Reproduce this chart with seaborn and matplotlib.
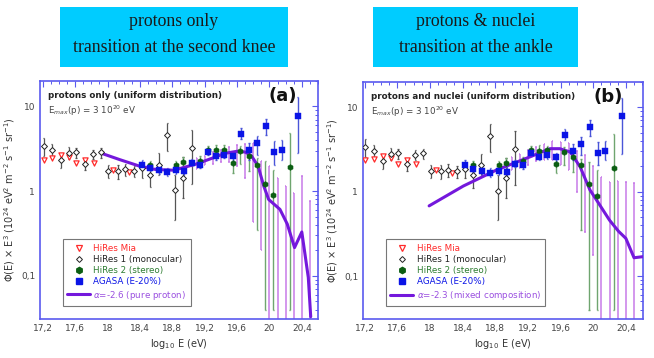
import matplotlib
matplotlib.use("Agg")
import matplotlib.pyplot as plt
from matplotlib.patches import Rectangle
from matplotlib.lines import Line2D
from matplotlib.ticker import FixedLocator, FixedFormatter, MultipleLocator
import numpy as np
import pandas as pd
import seaborn as sns

sns.set_style("white")
plt.rcParams["font.family"] = ["DejaVu Sans"]

# ---- data ----
mia_x = [17.21, 17.31, 17.42, 17.52, 17.61, 17.72, 17.83, 18.07, 18.27]
mia_y = [2.36, 2.47, 2.68, 2.51, 2.16, 2.36, 2.14, 1.80, 1.69]

hr1_x = [17.21, 17.31, 17.42, 17.52, 17.61, 17.72, 17.82, 17.92, 18.01, 18.13,
         18.22, 18.33, 18.43, 18.53, 18.63, 18.74, 18.83, 18.93, 19.04]
hr1_y = [3.38, 3.04, 2.32, 2.83, 2.88, 2.12, 2.75, 2.88, 1.75, 1.75,
         1.83, 1.75, 1.88, 1.57, 2.06, 4.64, 1.03, 1.45, 3.24]
hr1_lo = [2.58, 2.58, 1.88, 2.40, 2.47, 1.77, 2.40, 2.47, 1.44, 1.40,
          1.50, 1.47, 1.44, 1.12, 1.57, 2.95, 0.46, 0.84, 1.20]
hr1_hi = [4.25, 3.60, 2.70, 3.29, 3.24, 2.40, 3.09, 3.24, 2.06, 2.06,
          2.12, 2.00, 2.19, 2.00, 2.83, 6.30, 1.57, 2.50, 5.30]

hr2_x = [18.53, 18.84, 18.93, 19.14, 19.24, 19.34, 19.44, 19.55, 19.64, 19.75,
         19.85, 19.95, 20.05, 20.25]
hr2_y = [2.06, 2.06, 2.22, 2.30, 3.09, 3.03, 3.09, 2.16, 2.96, 2.58,
         2.06, 1.23, 0.90, 1.92]
hr2_lo = [1.85, 1.85, 1.95, 2.05, 2.78, 2.47, 2.70, 1.65, 2.07, 1.72,
          0.35, 0.04, 0.04, 0.04]
hr2_hi = [2.30, 2.30, 2.50, 2.60, 3.45, 3.54, 3.50, 2.70, 3.38, 2.96,
          2.47, 2.25, 1.80, 4.86]

aga_x = [18.43, 18.53, 18.64, 18.74, 18.84, 18.94, 19.04, 19.14, 19.24, 19.34,
         19.44, 19.55, 19.65, 19.75, 19.85, 19.96, 20.06, 20.15, 20.35]
aga_y = [2.06, 1.88, 1.77, 1.67, 1.77, 1.72, 2.16, 2.06, 2.90, 2.58,
         2.70, 2.58, 4.77, 3.03, 3.71, 5.93, 2.88, 3.03, 7.80]
aga_lo = [1.94, 1.72, 1.60, 1.50, 1.60, 1.55, 1.98, 1.88, 2.65, 2.35,
          2.45, 2.30, 4.14, 2.36, 2.70, 4.64, 2.06, 2.36, 2.83]
aga_hi = [2.36, 2.12, 2.00, 1.90, 2.00, 1.95, 2.40, 2.30, 3.20, 2.85,
          2.98, 2.88, 5.57, 3.71, 4.43, 7.10, 3.87, 4.00, 13.0]

# model curves
a_cx = [17.94, 18.15, 18.40, 18.60, 18.82, 19.10, 19.30, 19.45, 19.60, 19.70,
        19.78, 19.86, 19.93, 19.99, 20.13, 20.22, 20.31, 20.40, 20.48, 20.51]
a_cy = [2.77, 2.36, 1.97, 1.80, 1.77, 2.10, 2.47, 2.80, 2.96, 2.90,
        2.60, 1.97, 1.15, 0.80, 0.61, 0.41, 0.216, 0.33, 0.096, 0.033]
b_cx = [17.99, 18.41, 18.81, 19.22, 19.47, 19.59, 19.72, 19.84, 19.96, 20.04,
        20.20, 20.31, 20.40, 20.50, 20.61]
b_cy = [0.68, 1.17, 1.80, 2.58, 3.24, 3.24, 2.96, 1.97, 1.05, 0.80,
        0.46, 0.34, 0.28, 0.165, 0.17]

# model fluctuation bars
a_bx = [19.1, 19.2, 19.3, 19.4, 19.5, 19.6, 19.7, 19.8, 19.9, 20.0, 20.1, 20.2, 20.3, 20.4, 20.5]
a_blo = [1.85, 2.05, 2.10, 2.20, 2.20, 2.00, 1.45, 0.43, 0.20, 0.03, 0.03, 0.03, 0.03, 0.03, 0.03]
a_bhi = [2.45, 2.60, 2.90, 3.10, 3.30, 3.50, 3.60, 3.70, 2.30, 2.00, 1.45, 1.15, 0.95, 1.50, 0.76]
b_bx = [19.0, 19.1, 19.2, 19.3, 19.4, 19.5, 19.6, 19.7, 19.8, 19.9, 20.0, 20.1, 20.2, 20.3, 20.4, 20.5]
b_blo = [1.80, 1.90, 2.10, 2.30, 2.40, 2.36, 2.10, 1.80, 1.00, 0.33, 0.18, 0.03, 0.03, 0.03, 0.03, 0.03]
b_bhi = [2.60, 2.80, 3.10, 3.40, 3.70, 4.00, 3.90, 3.80, 3.00, 2.70, 2.00, 1.50, 1.30, 1.35, 1.30, 1.26]

xticks = [17.2, 17.6, 18.0, 18.4, 18.8, 19.2, 19.6, 20.0, 20.4]
xticklabels = ["17,2", "17,6", "18", "18,4", "18,8", "19,2", "19,6", "20", "20,4"]
yticks = [0.1, 1, 10]
yticklabels = ["0,1", "1", "10"]

RED = "#ff2a2a"
GREEN = "#0b5e12"
GREEN_BAR = "#6fa56f"
BLUE = "#0a14e6"
BLUE_BAR = "#4a55d8"
VIOLET = "#7418dc"
VIOLET_BAR = "#c77ae8"
FRAME = "#5a5aef"


def vbars(ax, x, lo, hi, color, lw=1.0, cap=2.2):
    ax.vlines(x, lo, hi, color=color, lw=lw, zorder=2)
    ax.hlines(lo, np.array(x) - cap * 0.004, np.array(x) + cap * 0.004, color=color, lw=lw, zorder=2)
    ax.hlines(hi, np.array(x) - cap * 0.004, np.array(x) + cap * 0.004, color=color, lw=lw, zorder=2)


def panel(ax, cx, cy, bx, blo, bhi, title, model_label, tag, xlim):
    vbars(ax, bx, blo, bhi, VIOLET_BAR, lw=1.1)
    vbars(ax, hr1_x, hr1_lo, hr1_hi, "#555555", lw=0.9)
    vbars(ax, hr2_x, hr2_lo, hr2_hi, GREEN_BAR, lw=1.0)
    vbars(ax, aga_x, aga_lo, aga_hi, BLUE_BAR, lw=1.0)

    sns.lineplot(x=cx, y=cy, ax=ax, color=VIOLET, lw=2.2, zorder=3, sort=False)
    sns.scatterplot(x=mia_x, y=mia_y, ax=ax, marker="v", s=14, facecolor="white",
                    edgecolor=RED, linewidth=0.9, zorder=4)
    sns.scatterplot(x=hr1_x, y=hr1_y, ax=ax, marker="D", s=9, facecolor="white",
                    edgecolor="#222222", linewidth=0.7, zorder=4)
    sns.scatterplot(x=hr2_x, y=hr2_y, ax=ax, marker="h", s=18, color=GREEN,
                    edgecolor=GREEN, linewidth=0.3, zorder=5)
    sns.scatterplot(x=aga_x, y=aga_y, ax=ax, marker="s", s=20, color=BLUE,
                    edgecolor=BLUE, linewidth=0.3, zorder=5)

    ax.set_yscale("log")
    ax.set_xlim(*xlim)
    ax.set_ylim(0.031, 20)
    ax.xaxis.set_major_locator(FixedLocator(xticks))
    ax.xaxis.set_major_formatter(FixedFormatter(xticklabels))
    ax.xaxis.set_minor_locator(MultipleLocator(0.1))
    ax.yaxis.set_major_locator(FixedLocator(yticks))
    ax.yaxis.set_major_formatter(FixedFormatter(yticklabels))
    ax.tick_params(which="both", direction="in", top=True, right=True, color=FRAME,
                   labelcolor="#444444", labelsize=6.5)
    ax.tick_params(which="major", length=4, width=0.8)
    ax.tick_params(which="minor", length=2.2, width=0.7)
    for s in ax.spines.values():
        s.set_color(FRAME)
        s.set_linewidth(1.2)

    ax.set_xlabel("log$_{10}$ E (eV)", fontsize=7, color="#333333", labelpad=3)
    ax.set_ylabel(r"$\Phi$(E) $\times$ E$^3$ (10$^{24}$ eV$^2$ m$^{-2}$ s$^{-1}$ sr$^{-1}$)",
                  fontsize=7, color="#333333", labelpad=3)

    ax.text(0.03, 0.94, title, transform=ax.transAxes, fontsize=6.3,
            fontweight="bold", color="#222222", va="center")
    ax.text(0.03, 0.875, "E$_{max}$(p) = 3 10$^{20}$ eV", transform=ax.transAxes,
            fontsize=6.3, color="#444444", va="center")
    ax.text(0.875, 0.935, tag, transform=ax.transAxes, fontsize=13,
            fontweight="bold", color="#111111", ha="center", va="center")

    handles = [
        Line2D([], [], ls="none", marker="v", ms=4, mfc="white", mec=RED, mew=0.9),
        Line2D([], [], ls="none", marker="D", ms=3, mfc="white", mec="#222222", mew=0.7),
        Line2D([], [], ls="none", marker="h", ms=4.5, color=GREEN),
        Line2D([], [], ls="none", marker="s", ms=4.5, color=BLUE),
        Line2D([], [], color=VIOLET, lw=2.2),
    ]
    labels = ["HiRes Mia", "HiRes 1 (monocular)", "HiRes 2 (stereo)",
              "AGASA (E-20%)", model_label]
    leg = ax.legend(handles, labels, loc="lower left", bbox_to_anchor=(0.082, 0.055),
                    borderaxespad=0, fontsize=6.3, frameon=True, fancybox=False,
                    edgecolor="#555555", handlelength=2.6, handletextpad=0.4,
                    labelspacing=0.25, borderpad=0.5)
    leg.get_frame().set_linewidth(0.8)
    for t, c in zip(leg.get_texts(), [RED, "#222222", "#2e7d32", BLUE, "#9a4fe0"]):
        t.set_color(c)


fig = plt.figure(figsize=(6.54, 3.58), dpi=100)
ax1 = fig.add_axes([40 / 654, 1 - 319 / 358, 278 / 654, 238 / 358])
ax2 = fig.add_axes([363 / 654, 1 - 319 / 358, 280 / 654, 237 / 358])

panel(ax1, a_cx, a_cy, a_bx, a_blo, a_bhi, "protons only (uniform distribution)",
      r"$\alpha$=-2.6 (pure proton)", "(a)", (17.165, 20.6))
panel(ax2, b_cx, b_cy, b_bx, b_blo, b_bhi, "protons and nuclei (uniform distribution)",
      r"$\alpha$=-2.3 (mixed composition)", "(b)", (17.18, 20.61))

# cyan headline boxes
for x0, x1, lines in [(60, 288, ["protons only", "transition at the second knee"]),
                      (373, 578, ["protons & nuclei", "transition at the ankle"])]:
    fig.patches.append(Rectangle((x0 / 654, 1 - 67 / 358), (x1 - x0) / 654, 60 / 358,
                                 transform=fig.transFigure, facecolor="#00ccff",
                                 edgecolor="none", zorder=0))
    cx = (x0 + x1) / 2 / 654
    fig.text(cx, 1 - 21 / 358, lines[0], ha="center", va="center", fontsize=12.8,
             family="Liberation Serif", color="#1a1a1a")
    fig.text(cx, 1 - 48 / 358, lines[1], ha="center", va="center", fontsize=12.8,
             family="Liberation Serif", color="#1a1a1a")

fig.savefig("out.png", dpi=100)
